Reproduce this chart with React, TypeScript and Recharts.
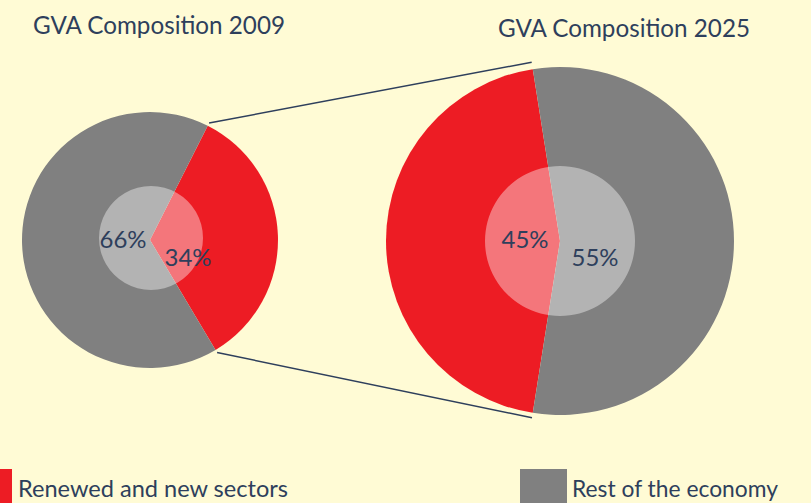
import React from "react";
import { PieChart, Pie, Cell } from "recharts";

const categories = ["Renewed and new sectors", "Rest of the economy"];
const values2009 = [34, 66];
const values2025 = [45, 55];
const titles = ["GVA Composition 2009", "GVA Composition 2025"];
const labels2009 = ["34%", "66%"];
const labels2025 = ["45%", "55%"];

const W = 811;
const H = 503;
const BG = "#FFFBD5";
const RED = "#ED1C24";
const GRAY = "#808080";
const TEXT = "#2E3F5C";
const FONT = "Lato, 'Noto Sans', sans-serif";

const left = { cx: 150, cy: 240, r: 128, inner: 52, start: 63.2 };
const right = { cx: 560, cy: 241, r: 174, inner: 75, start: 99 };

const data2009 = categories.map((c, i) => ({ name: c, value: values2009[i], label: labels2009[i] }));
const data2025 = categories.map((c, i) => ({ name: c, value: values2025[i], label: labels2025[i] }));

// label offsets from the pie centre (style, not data)
const labelOffsets2009 = [
  [38, 18],
  [-27, 0],
];
const labelOffsets2025 = [
  [-35, -1],
  [35, 17],
];

const makeLabel = (offsets: number[][], cx: number, cy: number) => (props: any) => {
  const i = props.index;
  const d = props.payload || {};
  const [dx, dy] = offsets[i];
  return (
    <text
      key={"l" + i}
      x={cx + dx}
      y={cy + dy + 8}
      textAnchor="middle"
      fill={TEXT}
      fontFamily={FONT}
      fontSize={23}
      textLength={47}
      lengthAdjust="spacingAndGlyphs"
    >
      {d.label ?? props.label}
    </text>
  );
};

const rad = Math.PI / 180;
const pt = (c: { cx: number; cy: number }, r: number, a: number) => [
  c.cx + r * Math.cos(a * rad),
  c.cy - r * Math.sin(a * rad),
];

export default function App() {
  const total09 = values2009.reduce((a, b) => a + b, 0);
  const total25 = values2025.reduce((a, b) => a + b, 0);
  const lEnd = left.start - 360;
  const lBoundary = left.start - (360 * values2009[0]) / total09;
  const rEnd = right.start + 360;
  const rBoundary = right.start + (360 * values2025[0]) / total25;

  const [l1x, l1y] = pt(left, left.r + 3, left.start);
  const [r1x, r1y] = pt(right, right.r + 7, right.start);
  const [l2x, l2y] = pt(left, left.r + 3, lBoundary);
  const [r2x, r2y] = pt(right, right.r + 5, rBoundary);

  return (
    <div style={{ position: "fixed", left: 0, top: 0, width: W, height: H, background: BG, overflow: "hidden" }}>
      <PieChart
        width={W}
        height={H}
        margin={{ top: 0, right: 0, bottom: 0, left: 0 }}
        style={{ position: "absolute", left: 0, top: 0 }}
      >
        <Pie
          data={data2009}
          dataKey="value"
          cx={left.cx}
          cy={left.cy}
          outerRadius={left.r}
          innerRadius={0}
          startAngle={left.start}
          endAngle={lEnd}
          stroke="none"
          isAnimationActive={false}
        >
          <Cell fill={RED} />
          <Cell fill={GRAY} />
        </Pie>
        <Pie
          data={[{ name: "overlay", value: 1 }]}
          dataKey="value"
          cx={left.cx + 1}
          cy={left.cy - 2}
          outerRadius={left.inner}
          stroke="none"
          fill="#FFFFFF"
          fillOpacity={0.4}
          isAnimationActive={false}
        />
        <Pie
          data={data2009}
          dataKey="value"
          cx={left.cx}
          cy={left.cy}
          outerRadius={1}
          startAngle={left.start}
          endAngle={lEnd}
          stroke="none"
          fill="none"
          labelLine={false}
          label={makeLabel(labelOffsets2009, left.cx, left.cy)}
          isAnimationActive={false}
        />
        <Pie
          data={data2025}
          dataKey="value"
          cx={right.cx}
          cy={right.cy}
          outerRadius={right.r}
          innerRadius={0}
          startAngle={right.start}
          endAngle={rEnd}
          stroke="none"
          isAnimationActive={false}
        >
          <Cell fill={RED} />
          <Cell fill={GRAY} />
        </Pie>
        <Pie
          data={[{ name: "overlay", value: 1 }]}
          dataKey="value"
          cx={right.cx}
          cy={right.cy}
          outerRadius={right.inner}
          stroke="none"
          fill="#FFFFFF"
          fillOpacity={0.4}
          isAnimationActive={false}
        />
        <Pie
          data={data2025}
          dataKey="value"
          cx={right.cx}
          cy={right.cy}
          outerRadius={1}
          startAngle={right.start}
          endAngle={rEnd}
          stroke="none"
          fill="none"
          labelLine={false}
          label={makeLabel(labelOffsets2025, right.cx, right.cy)}
          isAnimationActive={false}
        />
      </PieChart>
      <svg width={W} height={H} style={{ position: "absolute", left: 0, top: 0, pointerEvents: "none" }}>
        <line x1={l1x} y1={l1y} x2={r1x} y2={r1y} stroke={TEXT} strokeWidth={1.5} />
        <line x1={l2x} y1={l2y} x2={r2x} y2={r2y} stroke={TEXT} strokeWidth={1.5} />
        <text x={33} y={34} fill={TEXT} fontFamily={FONT} fontSize={25} textLength={252} lengthAdjust="spacingAndGlyphs">
          {titles[0]}
        </text>
        <text x={498} y={37} fill={TEXT} fontFamily={FONT} fontSize={25} textLength={252} lengthAdjust="spacingAndGlyphs">
          {titles[1]}
        </text>
        <rect x={-35} y={469} width={47} height={47} fill={RED} />
        <text x={18} y={497} fill={TEXT} fontFamily={FONT} fontSize={24} textLength={270} lengthAdjust="spacingAndGlyphs">
          {categories[0]}
        </text>
        <rect x={520} y={469} width={47} height={47} fill={GRAY} />
        <text x={572} y={497} fill={TEXT} fontFamily={FONT} fontSize={24} textLength={206} lengthAdjust="spacingAndGlyphs">
          {categories[1]}
        </text>
      </svg>
    </div>
  );
}
